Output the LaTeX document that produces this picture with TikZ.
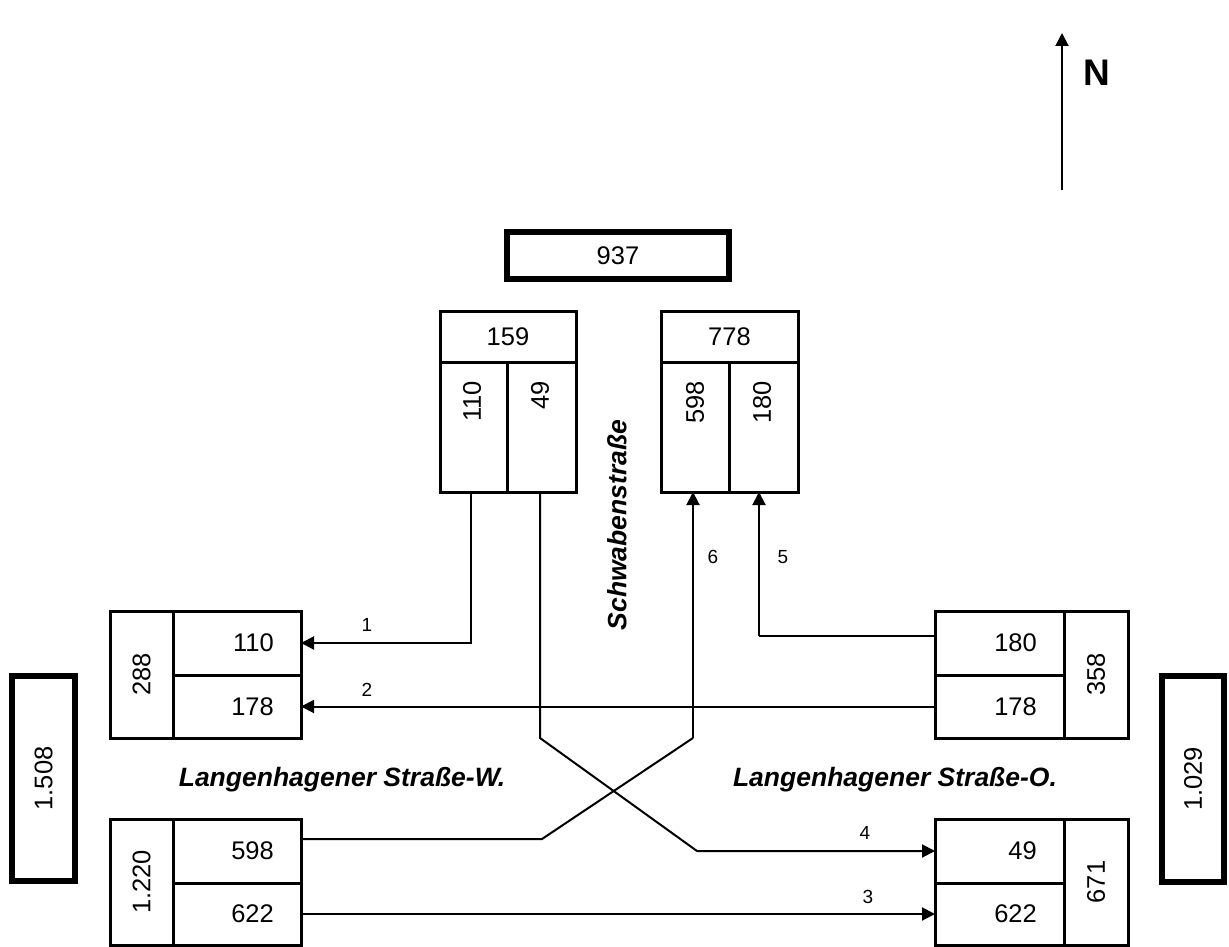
\documentclass[tikz,border=0pt]{standalone}
\usepackage{fontspec}
\setmainfont{Liberation Sans}
\usetikzlibrary{arrows.meta,calc}
\begin{document}
\begin{tikzpicture}[x=1pt,y=-1pt,
  cell/.style={draw,line width=3pt,outer sep=0pt,inner sep=0pt,rectangle},
  thick box/.style={draw,line width=6pt,outer sep=0pt,inner sep=0pt,rectangle},
  num/.style={font=\fontsize{25.5}{25.5}\selectfont,inner sep=0pt},
  road/.style={font=\fontsize{26.5}{26.5}\selectfont\bfseries\itshape,inner sep=0pt},
  lab/.style={font=\fontsize{19}{19}\selectfont,inner sep=0pt},
  conn/.style={line width=2pt},
  arr/.style={conn,-{Triangle[length=13pt,width=13pt]}}]
\useasboundingbox (0,0) rectangle (1229,947);
\fill[white] (0,0) rectangle (1229,947);

% north arrow
\coordinate (nbot) at (1062,190);
\coordinate (ntop) at (1062,33);
\draw[arr] (nbot) -- (ntop);
\node[font=\fontsize{37}{37}\selectfont\bfseries,inner sep=0pt] (north) at (1097,73) {N};

% top total
\node[thick box,minimum width=222pt,minimum height=47pt] (t937) at (618,255.5) {};
\node[num] (l937) at (t937) {937};

% top-left box (159)
\node[cell,minimum width=136pt,minimum height=51pt] (h159) at (508,336.5) {};
\node[cell,minimum width=67pt,minimum height=130pt] (c110T) at (473.5,427) {};
\node[cell,minimum width=69pt,minimum height=130pt] (c49T) at (541.5,427) {};
\node[num] at (h159) {159};
\node[num,rotate=90,anchor=east] at (472,381) {110};
\node[num,rotate=90,anchor=east] at (540,381) {49};

% top-right box (778)
\node[cell,minimum width=137pt,minimum height=51pt] (h778) at (729.5,336.5) {};
\node[cell,minimum width=68pt,minimum height=130pt] (c598T) at (695,427) {};
\node[cell,minimum width=69pt,minimum height=130pt] (c180T) at (763.5,427) {};
\node[num] at (h778) {778};
\node[num,rotate=90,anchor=east] at (695,381) {598};
\node[num,rotate=90,anchor=east] at (762,381) {180};

% left totals
\node[thick box,minimum width=63pt,minimum height=205pt] (t1508) at (43.5,778.5) {};
\node[num,rotate=90] at (t1508) {1.508};

% left upper box (288)
\node[cell,minimum width=63pt,minimum height=127pt] (s288) at (141.5,674.5) {};
\node[cell,minimum width=128pt,minimum height=64pt] (c110L) at (237,643) {};
\node[cell,minimum width=128pt,minimum height=63pt] (c178L) at (237,706.5) {};
\node[num,rotate=90] at (s288) {288};
\node[num,anchor=east] at (274,643) {110};
\node[num,anchor=east] at (274,707) {178};

% left lower box (1.220)
\node[cell,minimum width=63pt,minimum height=126pt] (s1220) at (141.5,882) {};
\node[cell,minimum width=128pt,minimum height=64pt] (c598L) at (237,851) {};
\node[cell,minimum width=128pt,minimum height=62pt] (c622L) at (237,914) {};
\node[num,rotate=90] at (s1220) {1.220};
\node[num,anchor=east] at (274,851) {598};
\node[num,anchor=east] at (274,914) {622};

% right totals
\node[thick box,minimum width=62pt,minimum height=206pt] (t1029) at (1193,779) {};
\node[num,rotate=90] at (t1029) {1.029};

% right upper box (358)
\node[cell,minimum width=129pt,minimum height=64pt] (c180R) at (999.5,643) {};
\node[cell,minimum width=129pt,minimum height=63pt] (c178R) at (999.5,706.5) {};
\node[cell,minimum width=64pt,minimum height=127pt] (s358) at (1096,674.5) {};
\node[num,anchor=east] at (1037,643) {180};
\node[num,anchor=east] at (1037,707) {178};
\node[num,rotate=90] at (s358) {358};

% right lower box (671)
\node[cell,minimum width=129pt,minimum height=64pt] (c49R) at (999.5,851) {};
\node[cell,minimum width=129pt,minimum height=62pt] (c622R) at (999.5,914) {};
\node[cell,minimum width=64pt,minimum height=126pt] (s671) at (1096,882) {};
\node[num,anchor=east] at (1037,851) {49};
\node[num,anchor=east] at (1037,914) {622};
\node[num,rotate=90] at (s671) {671};

% street names
\node[road,rotate=90] (schwaben) at (617,525) {Schwabenstraße};
\node[road] (langW) at (342,780) {Langenhagener Straße-W.};
\node[road] (langO) at (895,780) {Langenhagener Straße-O.};

% connectors
\coordinate (p1) at ($(c110T.south)+(-2.5,0)$);
\draw[arr] (p1) |- (c110L.east);
\node[lab] at (367,625) {1};

\draw[arr] (c178R.west) -- (c178L.east);
\node[lab] at (367,690) {2};

\draw[arr] (c622L.east) -- (c622R.west);
\node[lab] at (868,897) {3};

\coordinate (p4a) at ($(c49T.south)+(-1.5,0)$);
\coordinate (p4b) at (540,738);
\coordinate (p4c) at (697,851);
\draw[arr] (p4a) -- (p4b) -- (p4c) -- (c49R.west);
\node[lab] at (865,833) {4};

\coordinate (p5a) at ($(c180R.west)+(0,-7)$);
\coordinate (p5b) at (759,636);
\draw[conn] (p5a) -- (p5b);
\draw[arr] (p5b) -- (c180T.south -| p5b);
\node[lab] at (783,557) {5};

\coordinate (p6a) at ($(c598L.east)+(0,-12)$);
\coordinate (p6b) at (542,839);
\coordinate (p6c) at (693,738);
\draw[conn] (p6a) -- (p6b) -- (p6c);
\draw[arr] (p6c) -- (c598T.south -| p6c);
\node[lab] at (713,557) {6};
\end{tikzpicture}
\end{document}
